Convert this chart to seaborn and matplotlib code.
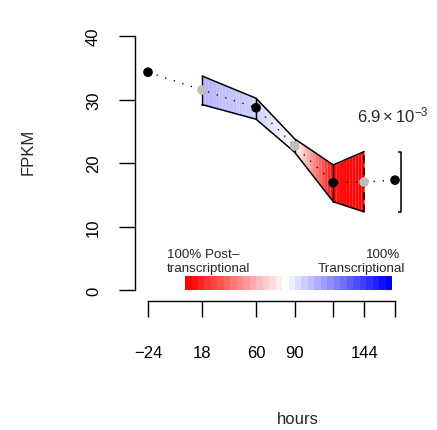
import numpy as np
import pandas as pd
import matplotlib
matplotlib.use("Agg")
import matplotlib.pyplot as plt
import seaborn as sns

# ---------------- data ----------------
hours = [-24, 18, 60, 90, 120, 144, 168]
fpkm = [34.3, 31.5, 28.7, 22.7, 16.9, 17.0, 17.3]
point_kind = ["measured", "interpolated", "measured", "interpolated",
              "measured", "interpolated", "measured"]

band_hours = [18, 60, 90, 120, 144]
band_upper = [33.7, 30.2, 23.8, 19.7, 21.8]
band_lower = [29.2, 26.9, 21.7, 13.9, 12.3]
# +1 = 100% transcriptional (blue), -1 = 100% post-transcriptional (red)
band_share = [0.30, 0.19, 0.0, -0.93, -1.0]

x_ticks = [-24, 18, 60, 90, 120, 144, 168]
x_tick_labels = ["\u221224", "18", "60", "90", "", "144", ""]
y_ticks = [0, 10, 20, 30, 40]
y_tick_labels = ["0", "10", "20", "30", "40"]
annotation = r"$6.9\times10^{-3}$"
legend_left = ["100% Post\u2013", "transcriptional"]
legend_right = ["100%", "Transcriptional"]

# ---------------- style ----------------
sns.set_theme(style="ticks")
plt.rcParams["font.family"] = ["Liberation Sans", "DejaVu Sans"]
plt.rcParams["mathtext.fontset"] = "custom"
plt.rcParams["mathtext.rm"] = "Liberation Sans"
plt.rcParams["mathtext.it"] = "Liberation Sans:italic"
plt.rcParams["mathtext.bf"] = "Liberation Sans:bold"


def share_color(t):
    if t >= 0:
        return (1 - t, 1 - t, 1.0)
    return (1.0, 1 + t, 1 + t)


W, H = 437, 431
fig = plt.figure(figsize=(W / 100, H / 100), dpi=100)
ax_l, ax_r, ax_b, ax_t = 135, 430, 302, 30
ax = fig.add_axes([ax_l / W, 1 - ax_b / H, (ax_r - ax_l) / W, (ax_b - ax_t) / H])

# pixel mapping used for axis limits
xpx = 247 / 192.0   # px per hour
ypx = 254 / 40.0    # px per FPKM
ax.set_xlim(-24 - (148 - ax_l) / xpx, -24 + (ax_r - 148) / xpx)
ax.set_ylim(-(ax_b - 291) / ypx, 40 + (37 - ax_t) / ypx)

# ---------------- band with gradient stripes ----------------
bx = np.array(band_hours, float)
bu = np.array(band_upper, float)
bl = np.array(band_lower, float)
bs = np.array(band_share, float)
for i in range(len(bx) - 1):
    n = max(int((bx[i + 1] - bx[i]) / 2.2), 2)
    edges = np.linspace(bx[i], bx[i + 1], n + 1)
    for j in range(n):
        xa, xb = edges[j], edges[j + 1]
        xm = 0.5 * (xa + xb)
        t = np.interp(xm, bx, bs)
        seg = np.array([xa, xb])
        ax.fill_between(seg, np.interp(seg, bx, bl), np.interp(seg, bx, bu),
                        color=share_color(t), lw=0, zorder=1)
ax.plot(bx, bu, color="black", lw=1.1, zorder=2)
ax.plot(bx, bl, color="black", lw=1.1, zorder=2)
for k in range(len(bx) - 1):
    ax.plot([bx[k], bx[k]], [bl[k], bu[k]], color="black", lw=1.0, zorder=2)
ax.plot([bx[-1], bx[-1]], [bl[-1], bu[-1]], color="black", lw=1.1,
        ls=(0, (5, 3)), zorder=2)

# ---------------- dotted line and points ----------------
df = pd.DataFrame({"hours": hours, "fpkm": fpkm, "kind": point_kind})
sns.lineplot(data=df, x="hours", y="fpkm", ax=ax, color="black", lw=1.0,
             dashes=False, zorder=3, sort=False)
ax.lines[-1].set_dashes((0.9, 5.6))
sns.scatterplot(data=df, x="hours", y="fpkm", hue="kind",
                palette={"measured": "black", "interpolated": "#BEBEBE"},
                s=48, linewidth=0, legend=False, ax=ax, zorder=4)

# bracket showing range at end
bxk = 172.7
ax.plot([bxk - 2.4, bxk, bxk, bxk - 2.4], [bu[-1], bu[-1], bl[-1], bl[-1]],
        color="black", lw=1.1, zorder=2, solid_capstyle="butt")
ax.text(138.5, 26.6, annotation, fontsize=12, ha="left", va="baseline")

# ---------------- colour legend ----------------
lx0, lx1 = 4.8, 165.7
ly0, ly1 = 0.0, 2.2
nblk = 32
bw = (lx1 - lx0) / nblk
shares = list(-np.linspace(1, 0.07, 15)) + [0.0] + list(np.linspace(0.07, 1, 16))
for i, t in enumerate(shares):
    ax.fill_between([lx0 + i * bw, lx0 + (i + 1) * bw], ly0, ly1,
                    color=share_color(t), lw=0, zorder=1)
ax.text(-9.2, 5.2, legend_left[0], fontsize=9.6, ha="left", va="baseline")
ax.text(-9.2, 3.0, legend_left[1], fontsize=9.6, ha="left", va="baseline")
ax.text(171.9, 5.2, legend_right[0], fontsize=9.6, ha="right", va="baseline")
ax.text(175.8, 3.0, legend_right[1], fontsize=9.6, ha="right", va="baseline")

# ---------------- axes ----------------
for s in ["top", "right"]:
    ax.spines[s].set_visible(False)
ax.spines["left"].set_bounds(0, 40)
ax.spines["bottom"].set_bounds(-24, 168)
for s in ["left", "bottom"]:
    ax.spines[s].set_linewidth(1.0)
    ax.spines[s].set_color("black")
ax.set_xticks(x_ticks)
ax.set_xticklabels(x_tick_labels)
ax.set_yticks(y_ticks)
ax.set_yticklabels(y_tick_labels, rotation=90, va="center")
ax.tick_params(axis="both", direction="out", length=11.5, width=1.0,
               colors="black", labelsize=12)
ax.tick_params(axis="x", pad=20)
ax.tick_params(axis="y", pad=13)
ax.set_xlabel("")
ax.set_ylabel("")

fig.text(298 / W, 1 - 420 / H, "hours", fontsize=12, ha="center", va="center")
fig.text(28 / W, 1 - 152 / H, "FPKM", fontsize=12, ha="center", va="center",
         rotation=90)

fig.savefig("out.png", dpi=100)
